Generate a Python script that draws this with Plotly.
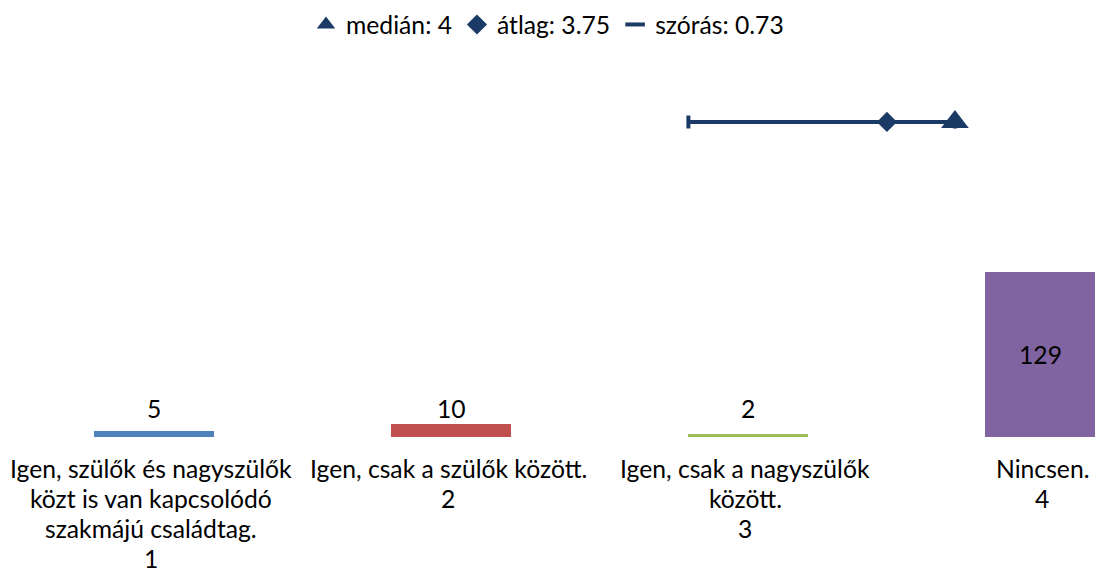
import plotly.graph_objects as go

# ---- data ----
categories = [1, 2, 3, 4]
cat_labels = [
    ["Igen, szülők és nagyszülők", "közt is van kapcsolódó", "szakmájú családtag.", "1"],
    ["Igen, csak a szülők között.", "2"],
    ["Igen, csak a nagyszülők", "között.", "3"],
    ["Nincsen.", "4"],
]
counts = [5, 10, 2, 129]
bar_colors = ["#4F81BD", "#C0504D", "#9BBB59", "#8064A2"]

median_val = 4
mean_val = 3.75
sd_val = 0.73
scale_max = 4

NAVY = "#1B3A66"
FONT = "Lato"
FS = 24.7

fig = go.Figure()

fig.add_trace(go.Bar(
    x=categories, y=counts, width=0.404,
    marker=dict(color=bar_colors, line=dict(width=0)),
    showlegend=False, hoverinfo="skip",
    xaxis="x", yaxis="y",
))

ypos = 0.721
fig.add_trace(go.Scatter(
    x=[mean_val], y=[ypos], mode="markers", name="átlag: %s" % mean_val,
    marker=dict(symbol="diamond", size=15.5, color=NAVY),
    error_x=dict(type="data", symmetric=False,
                 array=[min(mean_val + sd_val, scale_max) - mean_val],
                 arrayminus=[sd_val], color=NAVY, thickness=4, width=6.5),
    xaxis="x2", yaxis="y2", legendrank=2,
))
fig.add_trace(go.Scatter(
    x=[median_val], y=[ypos], mode="markers", name="medián: %s" % median_val,
    marker=dict(symbol="triangle-up", size=24, color=NAVY),
    xaxis="x2", yaxis="y2", legendrank=1,
))
fig.add_trace(go.Scatter(
    x=[None], y=[None], mode="markers", name="szórás: %s" % sd_val,
    marker=dict(symbol="line-ew", size=14, color=NAVY, line=dict(width=4, color=NAVY)),
    xaxis="x2", yaxis="y2", legendrank=3,
))

annotations = []
px_per_unit = 1.28
for c, v in zip(categories, counts):
    if v * px_per_unit > 40:
        annotations.append(dict(x=c, y=v / 2, xref="x", yref="y", text=str(v), xshift=-5,
                                showarrow=False, font=dict(family=FONT, size=FS, color="black")))
    else:
        annotations.append(dict(x=c, y=0, xref="x", yref="y", text=str(v), yshift=29,
                                showarrow=False, font=dict(family=FONT, size=FS, color="black")))
for c, lines in zip(categories, cat_labels):
    for i, line in enumerate(lines):
        annotations.append(dict(x=c, y=0, xref="x", yref="paper", text=line,
                                xshift=-3, yshift=-31 - 30 * i, yanchor="middle",
                                showarrow=False, font=dict(family=FONT, size=FS, color="black")))

fig.update_layout(
    width=1098, height=577,
    margin=dict(l=0, r=3, t=0, b=140),
    paper_bgcolor="white", plot_bgcolor="white",
    font=dict(family=FONT, size=FS, color="black"),
    xaxis=dict(range=[0.4815, 4.168], visible=False, fixedrange=True),
    yaxis=dict(range=[0, 437 / px_per_unit], visible=False),
    xaxis2=dict(range=[0.489, 4.515], visible=False, overlaying="x"),
    yaxis2=dict(range=[0, 1], visible=False, overlaying="y"),
    legend=dict(orientation="h", x=0.5, xanchor="center", y=0.943, yanchor="middle",
                font=dict(family=FONT, size=FS, color="black"), itemwidth=30,
                traceorder="normal"),
    annotations=annotations,
    bargap=0,
)

fig.write_html("out.html", config={"displayModeBar": False},
               post_script="document.body.style.margin='0';")
